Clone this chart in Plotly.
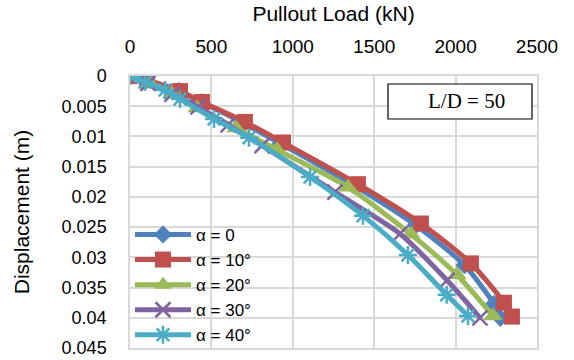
import plotly.graph_objects as go

# Data
series_names = ["α = 0", "α = 10°", "α = 20°", "α = 30°", "α = 40°"]

load_a0 = [0, 100, 300, 440, 690, 925, 1375, 1755, 2055, 2235, 2275]
disp_a0 = [0, 0.0007, 0.0025, 0.0043, 0.0077, 0.0112, 0.0181, 0.0247, 0.0313, 0.0377, 0.0400]

load_a10 = [0, 104, 307, 442, 706, 940, 1400, 1787, 2094, 2297, 2346]
disp_a10 = [0, 0.0007, 0.0025, 0.0043, 0.0076, 0.0110, 0.0179, 0.0244, 0.0310, 0.0375, 0.0398]

load_a20 = [0, 123, 258, 412, 651, 903, 1339, 1726, 2008, 2230]
disp_a20 = [0, 0.0012, 0.0030, 0.0053, 0.0086, 0.0122, 0.0184, 0.0262, 0.0329, 0.0397]

load_a30 = [0, 111, 258, 418, 602, 811, 1259, 1658, 1947, 2150]
disp_a30 = [0, 0.0012, 0.0030, 0.0051, 0.0081, 0.0115, 0.0192, 0.0261, 0.0338, 0.0400]

load_a40 = [0, 92, 215, 307, 516, 731, 1106, 1431, 1707, 1945, 2076]
disp_a40 = [0, 0.0010, 0.0023, 0.0038, 0.0071, 0.0102, 0.0167, 0.0231, 0.0296, 0.0362, 0.0397]

x_ticks = [0, 500, 1000, 1500, 2000, 2500]
y_ticks = [0, 0.005, 0.01, 0.015, 0.02, 0.025, 0.03, 0.035, 0.04, 0.045]
y_tick_labels = ["0", "0.005", "0.01", "0.015", "0.02", "0.025", "0.03", "0.035", "0.04", "0.045"]

colors = ["#4F81BD", "#C0504D", "#9BBB59", "#8064A2", "#4BACC6"]
symbols = ["diamond", "square", "triangle-up", "x-thin", "asterisk"]
sizes = [14, 16, 17, 15, 15]

loads = [load_a0, load_a10, load_a20, load_a30, load_a40]
disps = [disp_a0, disp_a10, disp_a20, disp_a30, disp_a40]

FONT = "Liberation Sans"

# plot-area geometry in pixels (used only to place the text box)
L, R, T, B = 130, 537, 76, 348
PW, PH = R - L, B - T

fig = go.Figure()
for name, xs, ys, c, s, sz in zip(series_names, loads, disps, colors, symbols, sizes):
    fig.add_trace(go.Scatter(
        x=xs, y=ys, name=name, mode="lines+markers",
        line=dict(color=c, width=5, shape="spline", smoothing=0.7),
        marker=dict(symbol=s, size=sz, color=c,
                    line=dict(color=c, width=2.5 if s in ("x-thin", "asterisk") else 0)),
    ))

fig.update_layout(
    width=574, height=360,
    margin=dict(l=L, r=574 - R, t=T, b=360 - B, autoexpand=False),
    paper_bgcolor="white", plot_bgcolor="white",
    font=dict(family=FONT, size=18, color="#000000"),
    showlegend=True,
    legend=dict(
        x=0.0, y=-0.018, xanchor="left", yanchor="bottom",
        bgcolor="rgba(0,0,0,0)", borderwidth=0,
        font=dict(family=FONT, size=17, color="#000000"),
        itemwidth=56, tracegroupgap=0,
    ),
    xaxis=dict(
        side="top", range=[0, 2500], tickvals=x_ticks,
        showgrid=True, gridcolor="#D9D9D9", gridwidth=1.5,
        showline=True, linecolor="#D9D9D9", linewidth=1.5, mirror=True,
        zeroline=False, ticks="", ticklabelstandoff=14,
        tickfont=dict(family=FONT, size=19),
        title=dict(text="Pullout Load (kN)", font=dict(family=FONT, size=21), standoff=8),
    ),
    yaxis=dict(
        range=[0.045, 0], tickvals=y_ticks, ticktext=y_tick_labels,
        showgrid=True, gridcolor="#D9D9D9", gridwidth=1.5,
        showline=True, linecolor="#D9D9D9", linewidth=1.5, mirror=True,
        zeroline=False, ticks="", ticklabelstandoff=18,
        tickfont=dict(family=FONT, size=18),
        title=dict(text="Displacement (m)", font=dict(family=FONT, size=21), standoff=26),
    ),
    shapes=[dict(
        type="rect", xref="paper", yref="paper",
        x0=(388 - L) / PW, x1=(532 - L) / PW,
        y0=(B - 119) / PH, y1=(B - 84) / PH,
        line=dict(color="black", width=1.2), fillcolor="white", layer="above",
    )],
    annotations=[dict(
        text="L/D = 50", xref="paper", yref="paper",
        x=(466 - L) / PW, y=(B - 101) / PH, xanchor="center", yanchor="middle",
        showarrow=False, font=dict(family="Liberation Serif", size=21, color="black"),
    )],
)

fig.write_html("out.html")
